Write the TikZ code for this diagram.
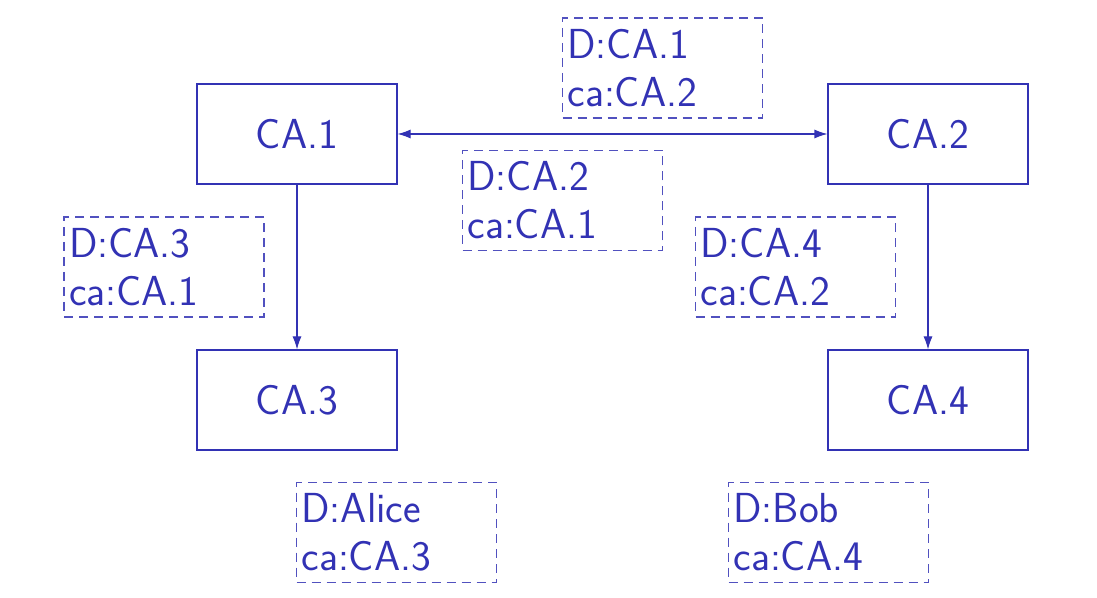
\documentclass[tikz,border=0pt]{standalone}
\usetikzlibrary{arrows.meta}
\definecolor{ink}{RGB}{50,50,180}
\begin{document}
\begin{tikzpicture}[x=0.5pt,y=-0.5pt,
  >={Latex[length=6.5pt,width=4.5pt]},
  box/.style={draw=ink, line width=0.55pt, minimum width=100pt, minimum height=50pt, inner sep=0pt, text=ink, font=\sffamily\fontsize{21}{24}\selectfont},
  lbox/.style={draw=ink!85, line width=0.55pt, dash pattern=on 4.5pt off 3pt, minimum height=50pt, inner xsep=2.5pt, inner ysep=0pt, text width=95pt, align=left, text=ink, font=\sffamily\fontsize{21}{24}\selectfont},
  link/.style={draw=ink, line width=0.55pt}]
\useasboundingbox (0,0) rectangle (1097,598);
\node[box] (ca1) at (297,134) {CA.1};
\node[box] (ca2) at (928,134) {CA.2};
\node[box] (ca3) at (297,400) {CA.3};
\node[box] (ca4) at (928,400) {CA.4};
\node[lbox] (l1) at (662.5,68) {D:CA.1\\ca:CA.2};
\node[lbox] (l2) at (562.5,200.5) {D:CA.2\\ca:CA.1};
\node[lbox] (l3) at (164,267) {D:CA.3\\ca:CA.1};
\node[lbox] (l4) at (795.5,267) {D:CA.4\\ca:CA.2};
\node[lbox] (la) at (396.5,532.5) {D:Alice\\ca:CA.3};
\node[lbox] (lb) at (828.5,532.5) {D:Bob\\ca:CA.4};
\draw[link, <->] (ca1) -- (ca2);
\draw[link, ->] (ca1) -- (ca3);
\draw[link, ->] (ca2) -- (ca4);
\end{tikzpicture}
\end{document}
